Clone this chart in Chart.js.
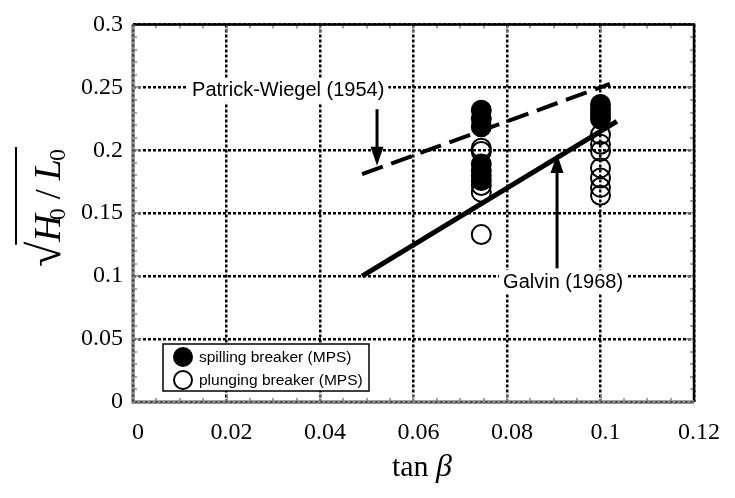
<!DOCTYPE html>
<html>
<head>
<meta charset="utf-8">
<script src="https://cdn.jsdelivr.net/npm/chart.js@4.4.0/dist/chart.umd.min.js"></script>
<style>
  html, body { margin: 0; padding: 0; background: #fff; }
  #wrap { width: 735px; height: 498px; }
</style>
</head>
<body>
<div id="wrap"><canvas id="myChart" width="735" height="498"></canvas></div>
<script>
var spillingX = [0.0745, 0.0745, 0.0745, 0.0745, 0.0745, 0.0745, 0.0745, 0.1, 0.1, 0.1, 0.1];
var spillingY = [0.2318, 0.225, 0.2186, 0.189, 0.184, 0.18, 0.176, 0.2364, 0.232, 0.228, 0.2248];
var plungingX = [0.0745, 0.0745, 0.0745, 0.0745, 0.0745, 0.1, 0.1, 0.1, 0.1, 0.1, 0.1, 0.1];
var plungingY = [0.2016, 0.199, 0.172, 0.1667, 0.133, 0.2124, 0.2047, 0.1992, 0.186, 0.178, 0.1705, 0.1643];

// empirical criteria lines
var galvinX = [0.049, 0.1035];
var galvinY = [0.1, 0.223];
var patrickX = [0.049, 0.102];
var patrickY = [0.181, 0.2527];

// axis ticks
var xTickValues = [0, 0.02, 0.04, 0.06, 0.08, 0.1, 0.12];
var xTickLabels = ['0', '0.02', '0.04', '0.06', '0.08', '0.1', '0.12'];
var yTickValues = [0, 0.05, 0.1, 0.15, 0.2, 0.25, 0.3];
var yTickLabels = ['0', '0.05', '0.1', '0.15', '0.2', '0.25', '0.3'];

// callouts (data coords)
var noteText = ['Patrick-Wiegel (1954)', 'Galvin (1968)'];
var noteX = [0.0332, 0.092];
var noteY = [0.2473, 0.0953];
var arrowX = [0.0522, 0.0907];
var arrowFromY = [0.2326, 0.1062];
var arrowToY = [0.1876, 0.197];

function pts(xs, ys) {
    return xs.map(function (x, i) { return { x: x, y: ys[i] }; });
}

var SERIF = '"Liberation Serif", "Times New Roman", serif';
var SANS = '"Liberation Sans", Arial, sans-serif';

var decorations = {
    id: 'decorations',
    afterDatasetsDraw: function (chart) {
        var ctx = chart.ctx, xs = chart.scales.x, ys = chart.scales.y;
        ctx.save();
        // callout texts with white box + arrows
        ctx.font = '20px ' + SANS;
        ctx.textAlign = 'center';
        ctx.textBaseline = 'middle';
        for (var i = 0; i < noteText.length; i++) {
            var px = xs.getPixelForValue(noteX[i]), py = ys.getPixelForValue(noteY[i]);
            var w = ctx.measureText(noteText[i]).width;
            ctx.fillStyle = '#fff';
            ctx.fillRect(px - w / 2 - 4, py - 12, w + 8, 24);
            ctx.fillStyle = '#000';
            ctx.fillText(noteText[i], px, py);

            var ax = xs.getPixelForValue(arrowX[i]);
            var y0 = ys.getPixelForValue(arrowFromY[i]);
            var y1 = ys.getPixelForValue(arrowToY[i]);
            var dir = y1 > y0 ? 1 : -1;
            ctx.strokeStyle = '#000';
            ctx.lineWidth = 3;
            ctx.beginPath();
            ctx.moveTo(ax, y0);
            ctx.lineTo(ax, y1 - dir * 14);
            ctx.stroke();
            ctx.beginPath();
            ctx.moveTo(ax, y1);
            ctx.lineTo(ax - 6.5, y1 - dir * 19);
            ctx.lineTo(ax + 6.5, y1 - dir * 19);
            ctx.closePath();
            ctx.fill();
        }

        // legend box
        var a = chart.chartArea;
        var lx = a.left + 30, ly = a.bottom - 58, lw = 206, lh = 47;
        ctx.fillStyle = '#fff';
        ctx.fillRect(lx, ly, lw, lh);
        ctx.strokeStyle = '#000';
        ctx.lineWidth = 1.5;
        ctx.strokeRect(lx, ly, lw, lh);
        var legendSets = [chart.data.datasets[3], chart.data.datasets[2]];
        ctx.font = '15.5px ' + SANS;
        ctx.textAlign = 'left';
        legendSets.forEach(function (ds, k) {
            var cy = ly + 13 + k * 23;
            ctx.beginPath();
            ctx.arc(lx + 20, cy, 9, 0, Math.PI * 2);
            if (ds.backgroundColor === '#000') { ctx.fillStyle = '#000'; ctx.fill(); }
            ctx.lineWidth = 2;
            ctx.strokeStyle = '#000';
            ctx.stroke();
            ctx.fillStyle = '#000';
            ctx.fillText(ds.label, lx + 36, cy + 1);
        });
        ctx.restore();
    },
    afterDraw: function (chart) {
        var ctx = chart.ctx, a = chart.chartArea, xs = chart.scales.x, ys = chart.scales.y;
        ctx.save();
        // minor ticks (grey) on all four sides
        ctx.strokeStyle = '#888';
        ctx.lineWidth = 1.5;
        for (var v = 0.005; v < 0.12; v += 0.005) {
            var px = Math.round(xs.getPixelForValue(v));
            var major = Math.abs(v / 0.02 - Math.round(v / 0.02)) < 1e-6;
            var len = major ? 8 : 4;
            ctx.beginPath();
            ctx.moveTo(px, a.bottom); ctx.lineTo(px, a.bottom - len);
            ctx.moveTo(px, a.top); ctx.lineTo(px, a.top + len);
            ctx.stroke();
        }
        for (var u = 0.01; u < 0.3; u += 0.01) {
            var py = Math.round(ys.getPixelForValue(u));
            var majorY = Math.abs(u / 0.05 - Math.round(u / 0.05)) < 1e-6;
            var l2 = majorY ? 8 : 4;
            ctx.beginPath();
            ctx.moveTo(a.left, py); ctx.lineTo(a.left + l2, py);
            ctx.moveTo(a.right, py); ctx.lineTo(a.right - l2, py);
            ctx.stroke();
        }
        // frame: black top/right, grey-checked left/bottom
        ctx.strokeStyle = '#000';
        ctx.lineWidth = 2.5;
        ctx.beginPath();
        ctx.moveTo(a.left, a.top); ctx.lineTo(a.right, a.top); ctx.lineTo(a.right, a.bottom);
        ctx.stroke();
        ctx.strokeStyle = '#8a8a8a';
        ctx.lineWidth = 3.5;
        ctx.beginPath();
        ctx.moveTo(a.left, a.top); ctx.lineTo(a.left, a.bottom); ctx.lineTo(a.right, a.bottom);
        ctx.stroke();
        ctx.strokeStyle = '#222';
        ctx.lineWidth = 1.5;
        ctx.setLineDash([2, 3]);
        ctx.beginPath();
        ctx.moveTo(a.left, a.top); ctx.lineTo(a.left, a.bottom); ctx.lineTo(a.right, a.bottom);
        ctx.stroke();
        ctx.setLineDash([]);

        // x title: tan β
        ctx.fillStyle = '#000';
        ctx.textBaseline = 'alphabetic';
        ctx.textAlign = 'left';
        var t1 = 'tan ';
        ctx.font = '30px ' + SERIF;
        var w1 = ctx.measureText(t1).width;
        ctx.font = 'italic 32px ' + SERIF;
        var w2 = ctx.measureText('\u03b2').width;
        var sx = 422 - (w1 + w2) / 2;
        ctx.font = '30px ' + SERIF;
        ctx.fillText(t1, sx, 476);
        ctx.font = 'italic 32px ' + SERIF;
        ctx.fillText('\u03b2', sx + w1, 476);

        // y title: sqrt(H0 / L0), rotated
        ctx.translate(60, 208);
        ctx.rotate(-Math.PI / 2);
        var parts = [
            { t: '\u221a', f: '46px ' + SERIF, dy: 0 },
            { t: 'H', f: 'italic 38px ' + SERIF, dy: 0 },
            { t: '0', f: '24px ' + SERIF, dy: 5, back: 6 },
            { t: ' / ', f: '36px ' + SERIF, dy: 0 },
            { t: 'L', f: 'italic 38px ' + SERIF, dy: 0 },
            { t: '0', f: '24px ' + SERIF, dy: 5, back: 2 }
        ];
        var total = 0;
        parts.forEach(function (p) { ctx.font = p.f; p.w = ctx.measureText(p.t).width - (p.back || 0); total += p.w; });
        var cx = -total / 2, rootEnd = 0;
        parts.forEach(function (p, i) {
            ctx.font = p.f;
            ctx.fillText(p.t, cx - (p.back || 0), p.dy);
            cx += p.w;
            if (i === 0) rootEnd = cx;
        });
        ctx.strokeStyle = '#000';
        ctx.lineWidth = 2;
        ctx.beginPath();
        ctx.moveTo(rootEnd - 3, -44);
        ctx.lineTo(cx + 2, -44);
        ctx.stroke();
        ctx.restore();
    }
};

var ctx = document.getElementById('myChart').getContext('2d');
var myChart = new Chart(ctx, {
    type: 'scatter',
    data: {
        datasets: [{
            label: 'Galvin (1968)',
            type: 'line',
            data: pts(galvinX, galvinY),
            borderColor: '#000',
            borderWidth: 5,
            pointRadius: 0,
            fill: false
        }, {
            label: 'Patrick-Wiegel (1954)',
            type: 'line',
            data: pts(patrickX, patrickY),
            borderColor: '#000',
            borderWidth: 4,
            borderDash: [22, 9],
            pointRadius: 0,
            fill: false
        }, {
            label: 'plunging breaker (MPS)',
            data: pts(plungingX, plungingY),
            pointRadius: 9.5,
            backgroundColor: 'rgba(0,0,0,0)',
            borderColor: '#000',
            borderWidth: 2
        }, {
            label: 'spilling breaker (MPS)',
            data: pts(spillingX, spillingY),
            pointRadius: 9.5,
            backgroundColor: '#000',
            borderColor: '#000',
            borderWidth: 2
        }]
    },
    options: {
        responsive: false,
        animation: false,
        devicePixelRatio: 1,
        layout: { padding: { top: 15, right: 41, left: 0, bottom: 0 } },
        plugins: { legend: { display: false }, tooltip: { enabled: false } },
        scales: {
            x: {
                type: 'linear', min: 0, max: 0.12,
                afterFit: function (s) { s.height = 96; },
                afterBuildTicks: function (s) { s.ticks = xTickValues.map(function (v) { return { value: v }; }); },
                ticks: {
                    callback: function (v, i) { return xTickLabels[i]; },
                    font: { family: SERIF, size: 24 },
                    color: '#000',
                    padding: 16,
                    labelOffset: 5,
                    maxRotation: 0
                },
                grid: { color: '#000', lineWidth: 2.5, drawTicks: false },
                border: { display: false, dash: [3, 2] }
            },
            y: {
                type: 'linear', min: 0, max: 0.3,
                afterFit: function (s) { s.width = 133; },
                afterBuildTicks: function (s) { s.ticks = yTickValues.map(function (v) { return { value: v }; }); },
                ticks: {
                    callback: function (v, i) { return yTickLabels[i]; },
                    font: { family: SERIF, size: 24 },
                    color: '#000',
                    padding: 10
                },
                grid: { color: '#000', lineWidth: 2.5, drawTicks: false },
                border: { display: false, dash: [3, 2] }
            }
        }
    },
    plugins: [decorations]
});
</script>
</body>
</html>
